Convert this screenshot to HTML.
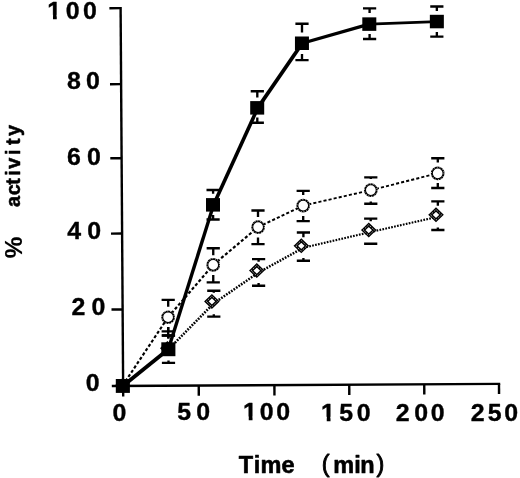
<!DOCTYPE html>
<html lang="en"><head><meta charset="utf-8"><title>% activity vs Time (min)</title>
<style>
html,body{margin:0;padding:0;background:#fff;}
body{width:520px;height:478px;overflow:hidden;}
svg{display:block;}
text{font-family:"Liberation Sans",Arial,Helvetica,sans-serif;font-weight:bold;}
</style></head><body>
<svg width="520" height="478" viewBox="0 0 520 478">
<rect width="520" height="478" fill="#fff"/>
<g stroke="#000" stroke-width="2.4" fill="none" stroke-linecap="butt">
<line x1="120.6" y1="7.0" x2="123.2" y2="396.5"/>
<line x1="111.8" y1="386.0" x2="500.2" y2="383.85"/>
<line x1="109.4" y1="8.2" x2="120.6" y2="8.149999999999999"/>
<line x1="110.0" y1="84.2" x2="121.1" y2="84.15"/>
<line x1="110.3" y1="158.3" x2="121.6" y2="158.25"/>
<line x1="111" y1="233.6" x2="122.1" y2="233.54999999999998"/>
<line x1="111.5" y1="309.5" x2="122.6" y2="309.45"/>
<line x1="198.75" y1="385.5" x2="198.8" y2="395.8"/>
<line x1="274.4" y1="385.1" x2="274.45" y2="395.4"/>
<line x1="349.25" y1="384.6" x2="349.3" y2="394.9"/>
<line x1="424.25" y1="384.2" x2="424.3" y2="394.5"/>
<line x1="499.0" y1="383.8" x2="499.05" y2="394.1"/>
</g>
<path d="M161.90,335.5H175.10M161.90,362.9H175.10M168.5,335.5V338.5M168.5,360.6V362.9" stroke="#000" stroke-width="2.35" fill="none"/>
<path d="M206.50,190.0H219.70M206.50,219.5H219.70M213.1,190.0V193.7M213.1,215.0V219.5" stroke="#000" stroke-width="2.35" fill="none"/>
<path d="M250.70,91.2H263.90M250.70,122.7H263.90M257.3,91.2V97.6M257.3,117.5V122.7" stroke="#000" stroke-width="2.35" fill="none"/>
<path d="M295.40,23.75H308.60M295.40,60.15H308.60M302.0,23.75V32.6M302.0,54.1V60.15" stroke="#000" stroke-width="2.35" fill="none"/>
<path d="M363.00,8.4H376.20M363.00,39.0H376.20M369.6,8.4V13.1M369.6,34.0V39.0" stroke="#000" stroke-width="2.35" fill="none"/>
<path d="M430.25,6.5H443.45M430.25,36.6H443.45M436.85,6.5V11.0M436.85,31.9V36.6" stroke="#000" stroke-width="2.35" fill="none"/>
<path d="M161.60,299.9H174.80M161.60,331.4H174.80M168.2,299.9V306.7M168.2,327.1V331.4" stroke="#000" stroke-width="2.35" fill="none"/>
<path d="M206.65,248.2H219.85M206.65,282.3H219.85M213.25,248.2V255.2M213.25,275.0V282.3" stroke="#000" stroke-width="2.35" fill="none"/>
<path d="M251.40,210.5H264.60M251.40,244.1H264.60M258.0,210.5V217.1M258.0,237.5V244.1" stroke="#000" stroke-width="2.35" fill="none"/>
<path d="M296.60,190.9H309.80M296.60,221.1H309.80M303.2,190.9V195.1M303.2,216.0V221.1" stroke="#000" stroke-width="2.35" fill="none"/>
<path d="M364.20,177.3H377.40M364.20,203.7H377.40M370.8,177.3V179.1M370.8,201.4V203.7" stroke="#000" stroke-width="2.35" fill="none"/>
<path d="M431.20,158.25H444.40M431.20,187.95H444.40M437.8,158.25V162.6M437.8,183.0V187.95" stroke="#000" stroke-width="2.35" fill="none"/>
<path d="M207.20,290.7H220.40M207.20,316.6H220.40M213.8,290.7V292.8M213.8,314.2V316.6" stroke="#000" stroke-width="2.35" fill="none"/>
<path d="M252.00,259.1H265.20M252.00,285.7H265.20M258.6,259.1V261.7M258.6,283.1V285.7" stroke="#000" stroke-width="2.35" fill="none"/>
<path d="M296.80,232.5H310.00M296.80,260.75H310.00M303.4,232.5V237.2M303.4,258.1V260.75" stroke="#000" stroke-width="2.35" fill="none"/>
<path d="M364.10,218.6H377.30M364.10,243.7H377.30M370.7,218.6V221.2M370.7,243.7V243.7" stroke="#000" stroke-width="2.35" fill="none"/>
<path d="M431.25,201.3H444.45M431.25,229.95H444.45M437.85,201.3V205.7M437.85,227.4V229.95" stroke="#000" stroke-width="2.35" fill="none"/>
<path d="M161.70,335.5H174.90M168.2,327.1V338.5" stroke="#000" stroke-width="2.35" fill="none"/>
<line x1="122.85" y1="385.95" x2="168.6" y2="349.2" stroke="#000" stroke-width="2.53" stroke-dasharray="1.7 1.3"/>
<line x1="168.6" y1="349.2" x2="213.8" y2="303.29999999999995" stroke="#000" stroke-width="2.55" stroke-dasharray="1.7 1.3"/>
<line x1="213.8" y1="303.29999999999995" x2="258.6" y2="272.5" stroke="#000" stroke-width="2.50" stroke-dasharray="1.7 1.3"/>
<line x1="258.6" y1="272.5" x2="303.4" y2="247.75" stroke="#000" stroke-width="2.45" stroke-dasharray="1.7 1.3"/>
<line x1="303.4" y1="247.75" x2="370.7" y2="232.0" stroke="#000" stroke-width="2.16" stroke-dasharray="1.7 1.3"/>
<line x1="370.7" y1="232.0" x2="437.85" y2="216.75" stroke="#000" stroke-width="2.15" stroke-dasharray="1.7 1.3"/>
<line x1="122.6" y1="385.6" x2="168.1" y2="317.2" stroke="#000" stroke-width="2.15" stroke-dasharray="3.1 2.1"/>
<line x1="168.1" y1="317.2" x2="213.2" y2="264.9" stroke="#000" stroke-width="2.19" stroke-dasharray="3.1 2.1"/>
<line x1="213.2" y1="264.9" x2="258.1" y2="227.1" stroke="#000" stroke-width="2.18" stroke-dasharray="3.1 2.1"/>
<line x1="258.1" y1="227.1" x2="303.2" y2="205.6" stroke="#000" stroke-width="2.07" stroke-dasharray="3.1 2.1"/>
<line x1="303.2" y1="205.6" x2="370.85" y2="190.1" stroke="#000" stroke-width="1.86" stroke-dasharray="3.1 2.1"/>
<line x1="370.85" y1="190.1" x2="437.7" y2="173.35" stroke="#000" stroke-width="1.88" stroke-dasharray="3.1 2.1"/>
<line x1="122.85" y1="385.95" x2="168.35" y2="349.25" stroke="#000" stroke-width="3.82"/>
<line x1="168.35" y1="349.25" x2="213.6" y2="204.85" stroke="#000" stroke-width="3.41"/>
<line x1="213.6" y1="204.85" x2="257.8" y2="107.85" stroke="#000" stroke-width="3.60"/>
<line x1="257.8" y1="107.85" x2="302.25" y2="43.25" stroke="#000" stroke-width="3.78"/>
<line x1="302.25" y1="43.25" x2="369.3" y2="24.1" stroke="#000" stroke-width="3.36"/>
<line x1="369.3" y1="24.1" x2="436.85" y2="21.55" stroke="#000" stroke-width="2.82"/>
<path d="M116.50,385.6L122.0,380.30L127.50,385.6L122.0,390.90Z" fill="#000" stroke="#000" stroke-width="2.6" stroke-linejoin="miter"/>
<path d="M161.90,348.2L167.4,342.90L172.90,348.2L167.4,353.50Z" fill="#000" stroke="#000" stroke-width="2.6" stroke-linejoin="miter"/>
<path d="M206.40,301.4L211.9,296.10L217.40,301.4L211.9,306.70Z" fill="#fff" stroke="#000" stroke-width="3.2" stroke-linejoin="miter"/>
<path d="M206.40,301.4L211.9,296.10L217.40,301.4L211.9,306.70Z" fill="none" stroke="#fff" stroke-width="0.8" stroke-dasharray="1.1 1.3"/>
<path d="M251.30,270.6L256.8,265.30L262.30,270.6L256.8,275.90Z" fill="#fff" stroke="#000" stroke-width="3.2" stroke-linejoin="miter"/>
<path d="M251.30,270.6L256.8,265.30L262.30,270.6L256.8,275.90Z" fill="none" stroke="#fff" stroke-width="0.8" stroke-dasharray="1.1 1.3"/>
<path d="M295.80,245.85L301.3,240.55L306.80,245.85L301.3,251.15Z" fill="#fff" stroke="#000" stroke-width="3.2" stroke-linejoin="miter"/>
<path d="M295.80,245.85L301.3,240.55L306.80,245.85L301.3,251.15Z" fill="none" stroke="#fff" stroke-width="0.8" stroke-dasharray="1.1 1.3"/>
<path d="M363.25,230.1L368.75,224.80L374.25,230.1L368.75,235.40Z" fill="#fff" stroke="#000" stroke-width="3.2" stroke-linejoin="miter"/>
<path d="M363.25,230.1L368.75,224.80L374.25,230.1L368.75,235.40Z" fill="none" stroke="#fff" stroke-width="0.8" stroke-dasharray="1.1 1.3"/>
<path d="M430.50,214.85L436.0,209.55L441.50,214.85L436.0,220.15Z" fill="#fff" stroke="#000" stroke-width="3.2" stroke-linejoin="miter"/>
<path d="M430.50,214.85L436.0,209.55L441.50,214.85L436.0,220.15Z" fill="none" stroke="#fff" stroke-width="0.8" stroke-dasharray="1.1 1.3"/>
<ellipse cx="168.1" cy="317.2" rx="5.85" ry="5.8" fill="#fff" stroke="#000" stroke-width="2.0"/>
<ellipse cx="168.1" cy="317.2" rx="6.3" ry="6.25" fill="none" stroke="#fff" stroke-width="1.0" stroke-dasharray="0.9 1.9"/>
<ellipse cx="213.2" cy="264.9" rx="5.85" ry="5.8" fill="#fff" stroke="#000" stroke-width="2.0"/>
<ellipse cx="213.2" cy="264.9" rx="6.3" ry="6.25" fill="none" stroke="#fff" stroke-width="1.0" stroke-dasharray="0.9 1.9"/>
<ellipse cx="258.1" cy="227.1" rx="5.85" ry="5.8" fill="#fff" stroke="#000" stroke-width="2.0"/>
<ellipse cx="258.1" cy="227.1" rx="6.3" ry="6.25" fill="none" stroke="#fff" stroke-width="1.0" stroke-dasharray="0.9 1.9"/>
<ellipse cx="303.2" cy="205.6" rx="5.85" ry="5.8" fill="#fff" stroke="#000" stroke-width="2.0"/>
<ellipse cx="303.2" cy="205.6" rx="6.3" ry="6.25" fill="none" stroke="#fff" stroke-width="1.0" stroke-dasharray="0.9 1.9"/>
<ellipse cx="370.85" cy="190.1" rx="5.85" ry="5.8" fill="#fff" stroke="#000" stroke-width="2.0"/>
<ellipse cx="370.85" cy="190.1" rx="6.3" ry="6.25" fill="none" stroke="#fff" stroke-width="1.0" stroke-dasharray="0.9 1.9"/>
<ellipse cx="437.7" cy="173.35" rx="5.85" ry="5.8" fill="#fff" stroke="#000" stroke-width="2.0"/>
<ellipse cx="437.7" cy="173.35" rx="6.3" ry="6.25" fill="none" stroke="#fff" stroke-width="1.0" stroke-dasharray="0.9 1.9"/>
<rect x="115.80" y="379.00" width="14.1" height="13.9" fill="#000"/>
<rect x="161.30" y="342.30" width="14.1" height="13.9" fill="#000"/>
<rect x="206.00" y="198.10" width="14.0" height="13.5" fill="#000"/>
<rect x="250.20" y="101.10" width="14.0" height="13.5" fill="#000"/>
<rect x="294.95" y="36.50" width="14.0" height="13.5" fill="#000"/>
<rect x="362.30" y="17.35" width="14.0" height="13.5" fill="#000"/>
<rect x="429.85" y="14.80" width="14.0" height="13.5" fill="#000"/>
<g font-family="'Liberation Sans', Arial, Helvetica, sans-serif" font-weight="bold" fill="#000" stroke="#000" stroke-width="0.6" stroke-linejoin="round">
<text transform="translate(0,18.60) scale(1.06,1.0)" x="44.67 62.07 78.20" y="0" font-size="23.5" stroke-width="0.35">100</text>
<rect x="47.92" y="14.80" width="5.07" height="5.60" fill="#fff" stroke="none"/>
<rect x="56.76" y="14.80" width="4.75" height="5.60" fill="#fff" stroke="none"/>
<text transform="translate(0,89.10) scale(1.06,1.0)" x="63.17 81.17" y="0" font-size="23.5" stroke-width="0.35">80</text>
<text transform="translate(0,165.00) scale(1.06,1.0)" x="63.13 82.02" y="0" font-size="23.5" stroke-width="0.35">60</text>
<text transform="translate(0,239.10) scale(1.06,1.0)" x="63.40 82.26" y="0" font-size="23.5" stroke-width="0.35">40</text>
<text transform="translate(0,314.50) scale(1.06,1.0)" x="67.54 86.36" y="0" font-size="23.5" stroke-width="0.35">20</text>
<text transform="translate(0,391.00) scale(1.06,1.0)" x="80.94" y="0" font-size="23.5" stroke-width="0.35">0</text>
<text transform="translate(0,420.50) scale(1.06,1.0)" x="106.12" y="0" font-size="23.5" stroke-width="0.35">0</text>
<text transform="translate(0,420.40) scale(1.06,1.0)" x="167.25 185.23" y="0" font-size="23.5" stroke-width="0.35">50</text>
<text transform="translate(0,420.40) scale(1.06,1.0)" x="229.34 245.13 260.70" y="0" font-size="23.5" stroke-width="0.35">100</text>
<rect x="243.67" y="416.60" width="5.07" height="5.60" fill="#fff" stroke="none"/>
<rect x="252.51" y="416.60" width="4.75" height="5.60" fill="#fff" stroke="none"/>
<text transform="translate(0,420.60) scale(1.06,1.0)" x="302.92 320.08 336.64" y="0" font-size="23.5" stroke-width="0.35">150</text>
<rect x="321.67" y="416.80" width="5.07" height="5.60" fill="#fff" stroke="none"/>
<rect x="330.51" y="416.80" width="4.75" height="5.60" fill="#fff" stroke="none"/>
<text transform="translate(0,420.60) scale(1.06,1.0)" x="373.34 390.84 406.41" y="0" font-size="23.5" stroke-width="0.35">200</text>
<text transform="translate(0,420.60) scale(1.06,1.0)" x="444.00 460.18 475.79" y="0" font-size="23.5" stroke-width="0.35">250</text>
<text transform="translate(0,472.70) scale(1.0,1.0)" x="238.74 253.86 260.45 281.58" y="0" font-size="23.5">Time</text>
<text transform="translate(0,472.7)" x="321.84 333.15 354.36 360.35 376.46" y="-0.4 0 0 0 -0.4" font-size="23.5"><tspan font-weight="normal" stroke-width="0.85">(</tspan>min<tspan font-weight="normal" stroke-width="0.85">)</tspan></text>
<text transform="translate(22.2,0) rotate(-90) scale(1.04,1.0)" x="-248.27" y="0" font-size="23.3" stroke-width="0.15">%</text>
<text transform="translate(20.4,0) rotate(-90) scale(0.85,0.9)" x="-243.51 -229.62 -217.34 -206.80 -198.56 -182.45 -170.64 -160.06" y="0" font-size="23.3">activity</text>
</g>
</svg>
</body></html>
